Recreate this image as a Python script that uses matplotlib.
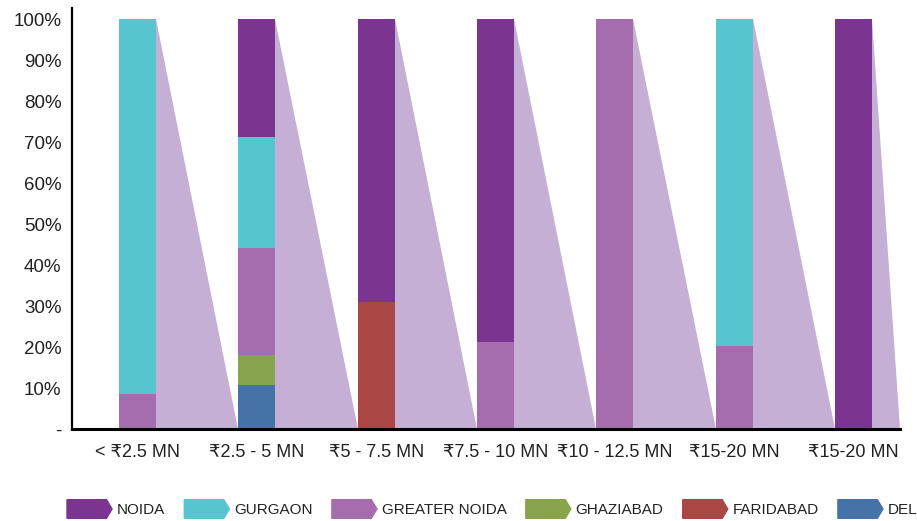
import matplotlib
matplotlib.use("Agg")
import matplotlib.pyplot as plt
from matplotlib.patches import Polygon, Patch
from matplotlib.legend_handler import HandlerPatch

plt.rcParams['font.family'] = ['Liberation Sans', 'DejaVu Sans']

categories = ["< ₹2.5 MN", "₹2.5 - 5 MN", "₹5 - 7.5 MN", "₹7.5 - 10 MN",
              "₹10 - 12.5 MN", "₹15-20 MN", "₹15-20 MN"]

# legend order (top of stack first)
cities = ["NOIDA", "GURGAON", "GREATER NOIDA", "GHAZIABAD", "FARIDABAD", "DELHI"]
noida = [0, 28.8, 69.0, 78.8, 0, 0, 100]
gurgaon = [91.5, 27.1, 0, 0, 0, 79.7, 0]
greater_noida = [8.5, 26.1, 0, 21.2, 100, 20.3, 0]
ghaziabad = [0, 7.3, 0, 0, 0, 0, 0]
faridabad = [0, 0, 31.0, 0, 0, 0, 0]
delhi = [0, 10.7, 0, 0, 0, 0, 0]

colors = {"NOIDA": "#7b3591", "GURGAON": "#57c5d0", "GREATER NOIDA": "#a56dae",
          "GHAZIABAD": "#88a44c", "FARIDABAD": "#aa4744", "DELHI": "#4673a7"}
connector_color = "#c5afd5"

series = {"NOIDA": noida, "GURGAON": gurgaon, "GREATER NOIDA": greater_noida,
          "GHAZIABAD": ghaziabad, "FARIDABAD": faridabad, "DELHI": delhi}

fig = plt.figure(figsize=(9.17, 5.21), dpi=100)
ax = fig.add_axes([72/917, 92/521, 828/917, 421/521])

width = 0.31
x = list(range(len(categories)))
xmin, xmax = -0.549, 6.39

# connector triangles from each bar top-right down to next bar's bottom-left
for i in x:
    x0 = i + width/2
    x1 = (i + 1 - width/2) if i < len(x) - 1 else xmax
    ax.fill([x0, x0, x1], [100, 0, 0], color=connector_color, lw=0, zorder=1)

bottom = [0]*len(x)
for name in reversed(cities):
    vals = series[name]
    ax.bar(x, vals, width, bottom=bottom, color=colors[name], lw=0, zorder=2)
    bottom = [b + v for b, v in zip(bottom, vals)]

ax.set_xlim(xmin, xmax)
ax.set_ylim(0, 102.7)
ax.set_xticks(x)
ax.set_xticklabels(categories, fontsize=13, color="#222222")
ax.set_yticks(range(0, 101, 10))
ax.set_yticklabels(["-"] + ["%d%%" % v for v in range(10, 101, 10)], fontsize=13.5, color="#222222")
ax.tick_params(axis="x", length=0, pad=11)
ax.tick_params(axis="y", length=0, pad=7.5)
for s in ["top", "right"]:
    ax.spines[s].set_visible(False)
ax.spines["left"].set_linewidth(1.6)
ax.spines["bottom"].set_linewidth(2.2)


def chevron(legend, orig_handle, xdescent, ydescent, width, height, fontsize):
    tip = height * 0.3
    pts = [(-xdescent, -ydescent), (-xdescent + width - tip, -ydescent),
           (-xdescent + width, -ydescent + height/2),
           (-xdescent + width - tip, -ydescent + height),
           (-xdescent, -ydescent + height)]
    return Polygon(pts, closed=True)


handles = [Patch(color=colors[c]) for c in cities]
fig.legend(handles, cities, loc="center left", bbox_to_anchor=(67/917, 12/521),
           ncol=6, frameon=False, fontsize=11, borderpad=0, borderaxespad=0,
           handlelength=2.95, handleheight=1.5, handletextpad=0.3, columnspacing=1.27,
           handler_map={Patch: HandlerPatch(patch_func=chevron)},
           labelcolor="#222222")

fig.savefig("out.png", dpi=100)
